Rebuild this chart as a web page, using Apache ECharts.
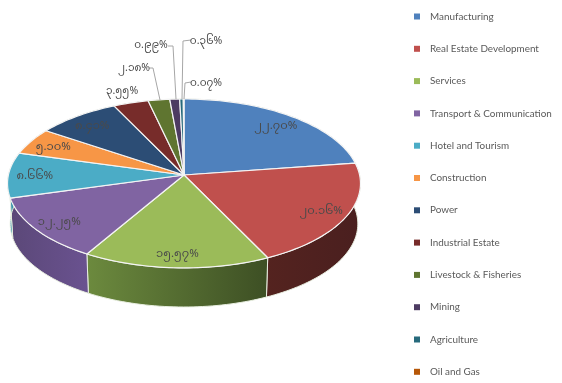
<!DOCTYPE html>
<html>
<head>
<meta charset="utf-8">
<style>html,body{margin:0;padding:0;background:#fff}#chart{width:562px;height:383px}</style>
<script src="https://cdn.jsdelivr.net/npm/echarts@6/dist/echarts.min.js"></script>
</head>
<body>
<div id="chart"></div>
<script>
const categories = ['Manufacturing', 'Real Estate Development', 'Services', 'Transport & Communication', 'Hotel and Tourism', 'Construction', 'Power', 'Industrial Estate', 'Livestock & Fisheries', 'Mining', 'Agriculture', 'Oil and Gas']
const shares = [22.70, 20.16, 15.57, 12.25, 8.66, 5.10, 8.41, 3.55, 2.18, 0.99, 0.36, 0.07]
const shareLabels = ['၂၂.၇၀%', '၂၀.၁၆%', '၁၅.၅၇%', '၁၂.၂၅%', '၈.၆၆%', '၅.၁၀%', '၈.၄၁%', '၃.၅၅%', '၂.၁၈%', '၀.၉၉%', '၀.၃၆%', '၀.၀၇%']
const colors = ['#4F81BD', '#C0504D', '#9BBB59', '#8064A2', '#4BACC6', '#F79646', '#2C4D75', '#772C2A', '#5F7530', '#4D3B62', '#276A7C', '#B65708']

// side wall colours, left to right
const wallColors = [
  ['#2c4a6c', '#2c4a6c'], ['#54231f', '#4a1f1f'], ['#6c8a3e', '#3d4f24'], ['#5b4878', '#6a5290'],
  ['#3a93ab', '#3a93ab'], ['#b06a30', '#b06a30'], ['#1f3654', '#1f3654'], ['#551f1e', '#551f1e'],
  ['#445422', '#445422'], ['#372a46', '#372a46'], ['#1c4c59', '#1c4c59'], ['#823e06', '#823e06']
]

// projection of the tilted disc
const cx = 184, cy = 175, R = 175.6, H = 83.6, P = 0.1, DEPTH = 40.5, BASE = 0.985

// placement of the labels outside the pie, with their leader lines
const outside = {
  7: { at: [122, 93] },
  8: { at: [134, 70], line: [[149, 68], [153, 68], [160, 100]] },
  9: { at: [151, 47], line: [[168, 46], [173, 46], [176, 99]] },
  10: { at: [206, 43], line: [[191, 40], [183, 41], [182, 99]] },
  11: { at: [206, 85], line: [[191, 82], [185, 83], [184, 99]] }
}

const total = shares.reduce((a, b) => a + b, 0)
const starts = shares.map((_, i) => shares.slice(0, i).reduce((a, b) => a + b, 0))

function project(pct, r, bottom) {
  const t = pct / total * Math.PI * 2
  const u = Math.sin(t) * r, v = Math.cos(t) * r
  const w = 1 + P * v
  const k = bottom ? BASE : 1
  return [cx + R * k * u / w, cy + (bottom ? DEPTH : 0) - H * k * v / w]
}

function arc(from, to, bottom) {
  const n = Math.max(2, Math.ceil((to - from) / 0.4))
  const pts = []
  for (let i = 0; i <= n; i++) pts.push(project(from + (to - from) * i / n, 1, bottom))
  return pts
}

function renderSlice(index) {
  return function (params, api) {
    const from = starts[index]
    const to = from + api.value(0)
    const top = arc(from, to, false)
    const base = arc(from, to, true)
    const xs = top.concat(base).map(p => p[0])
    const children = [{
      type: 'polygon',
      z2: 1,
      shape: { points: top.concat(base.slice().reverse()) },
      style: {
        fill: new echarts.graphic.LinearGradient(Math.min(...xs), 0, Math.max(...xs), 0, [
          { offset: 0, color: wallColors[index][0] },
          { offset: 1, color: wallColors[index][1] }
        ], true),
        stroke: '#e8eee0',
        lineWidth: 1
      }
    }, {
      type: 'polygon',
      z2: 2,
      shape: { points: [[cx, cy]].concat(top) },
      style: { fill: colors[index], stroke: '#f4f4f4', lineWidth: 1.2, lineJoin: 'round' }
    }]
    const place = outside[index]
    if (place && place.line) {
      children.push({
        type: 'polyline',
        z2: 3,
        shape: { points: place.line },
        style: { fill: null, stroke: '#a6a6a6', lineWidth: 1 }
      })
    }
    const mid = project(from + api.value(0) / 2, 0.85, false)
    const at = place ? place.at : [mid[0], mid[1] + 3]
    children.push({
      type: 'text',
      z2: 4,
      x: at[0],
      y: at[1],
      style: {
        text: shareLabels[index],
        fill: '#4a4a4a',
        font: (place ? '10.5px' : '11.5px') + ' "Noto Sans Myanmar", "Padauk", "Noto Sans", sans-serif',
        align: 'center',
        verticalAlign: 'middle'
      }
    })
    return { type: 'group', children }
  }
}

const chart = echarts.init(document.getElementById('chart'), null, { renderer: 'canvas' })
chart.setOption({
  animation: false,
  legend: {
    orient: 'vertical',
    left: 414,
    top: 7,
    padding: 0,
    itemWidth: 6,
    itemHeight: 6,
    itemGap: 13.3,
    icon: 'rect',
    data: categories,
    textStyle: { color: '#595959', fontFamily: 'Lato', fontSize: 9.9, padding: [0, 0, 4, 5], lineHeight: 15 }
  },
  series: categories.map((name, i) => ({
    type: 'custom',
    name,
    coordinateSystem: 'none',
    itemStyle: { color: colors[i] },
    renderItem: renderSlice(i),
    data: [shares[i]]
  }))
})
</script>
</body>
</html>
